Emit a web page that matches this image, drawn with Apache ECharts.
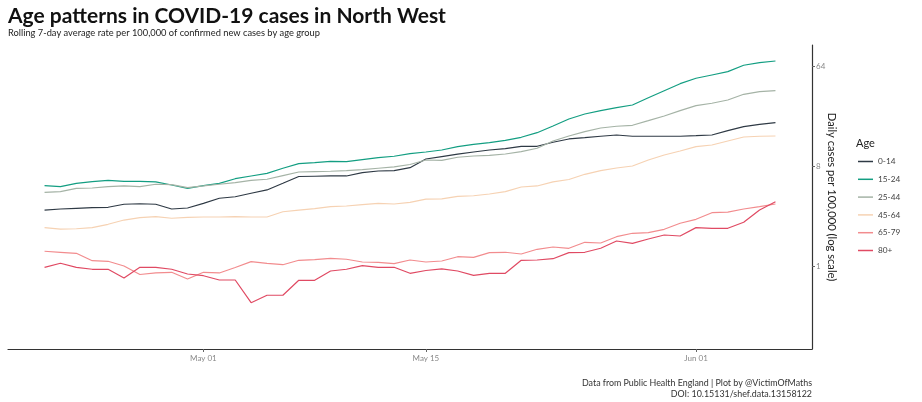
<!DOCTYPE html>
<html>
<head>
<meta charset="utf-8">
<script src="https://cdn.jsdelivr.net/npm/echarts@6/dist/echarts.min.js"></script>
<style>
html,body{margin:0;padding:0;background:#fff;}
#chart{width:922px;height:402px;}
</style>
</head>
<body>
<div id="chart"></div>
<script>
// Dates: 21 Apr to 6 Jun (daily)
var startDate = '2021-04-21';
var dayCount = 47;
var ageGroups = ['0-14', '15-24', '25-44', '45-64', '65-79', '80+'];
var seriesColors = ['#2f3a45', '#139e82', '#a5b3a6', '#f6d2b3', '#f28c8e', '#e04a63'];

var age0to14 = [3.20,3.27,3.32,3.36,3.39,3.61,3.65,3.61,3.27,3.34,3.68,4.09,4.22,4.54,4.86,5.58,6.43,6.46,6.50,6.50,6.96,7.21,7.26,7.72,9.25,9.73,10.22,10.70,11.16,11.46,12.05,12.05,13.10,14.03,14.41,14.84,15.24,14.84,14.84,14.84,14.84,15.02,15.24,16.67,18.11,19.04,19.68];
var age15to24 = [5.31,5.20,5.58,5.77,5.94,5.82,5.82,5.74,5.39,5.03,5.31,5.58,6.14,6.50,6.87,7.63,8.39,8.57,8.82,8.75,9.12,9.51,9.79,10.33,10.70,11.16,11.95,12.56,12.99,13.65,14.53,15.99,18.38,21.26,23.59,25.26,26.89,28.44,33.11,38.29,44.29,49.56,53.08,56.85,64.94,68.55,71.0];
var age25to44 = [4.63,4.69,5.03,5.06,5.20,5.28,5.20,5.47,5.42,5.10,5.28,5.47,5.65,5.94,6.07,6.54,7.06,7.11,7.17,7.26,7.41,7.63,7.84,8.25,9.06,9.00,9.59,9.85,9.99,10.27,10.77,11.56,13.45,14.93,16.32,17.63,18.27,18.65,20.52,22.63,25.26,28.04,29.47,31.56,35.53,37.48,38.29];
var age45to64 = [2.22,2.15,2.17,2.22,2.38,2.60,2.73,2.79,2.70,2.75,2.77,2.77,2.79,2.77,2.77,3.09,3.20,3.29,3.43,3.48,3.58,3.68,3.63,3.76,4.01,4.03,4.26,4.31,4.47,4.69,5.17,5.28,5.74,6.04,6.73,7.26,7.67,8.00,9.06,10.06,10.93,11.95,12.38,13.45,14.62,14.84,14.93];
var age65to79 = [1.358,1.330,1.302,1.117,1.103,1.000,0.838,0.865,0.877,0.763,0.877,0.865,0.969,1.094,1.058,1.027,1.126,1.140,1.174,1.150,1.087,1.080,1.049,1.133,1.087,1.110,1.213,1.198,1.319,1.330,1.283,1.415,1.485,1.445,1.637,1.613,1.839,1.974,1.999,2.145,2.43,2.64,3.03,3.07,3.27,3.43,3.63];
var age80plus = [0.973,1.058,0.973,0.934,0.934,0.779,0.973,0.973,0.934,0.847,0.817,0.747,0.747,0.466,0.544,0.544,0.743,0.743,0.901,0.934,1.006,0.973,0.973,0.859,0.911,0.940,0.901,0.824,0.859,0.859,1.126,1.133,1.164,1.319,1.330,1.445,1.682,1.603,1.753,1.905,1.866,2.22,2.19,2.19,2.48,3.20,3.81];

var yTickValues = [1, 8, 64];
var xTickDates = ['2021-05-01', '2021-05-15', '2021-06-01'];
var monthNames = ['Jan','Feb','Mar','Apr','May','Jun','Jul','Aug','Sep','Oct','Nov','Dec'];

function parseDay(s) {
  var p = s.split('-');
  return new Date(+p[0], +p[1] - 1, +p[2]).getTime();
}
var t0 = parseDay(startDate);
var dates = [];
for (var i = 0; i < dayCount; i++) {
  var d = new Date(t0);
  d.setDate(d.getDate() + i);
  dates.push(d.getTime());
}
var allSeries = [age0to14, age15to24, age25to44, age45to64, age65to79, age80plus];
var span = dates[dates.length - 1] - dates[0];
var xMin = dates[0] - 0.05 * span;
var xMax = dates[dates.length - 1] + 0.05 * span;
var xTicks = xTickDates.map(parseDay);

var font = 'Lato, "Open Sans", sans-serif';

var chart = echarts.init(document.getElementById('chart'), null, {renderer: 'canvas'});
chart.setOption({
  animation: false,
  backgroundColor: '#ffffff',
  textStyle: {fontFamily: font},
  title: [
    {text: 'Age patterns in COVID-19 cases in North West', left: 3, top: 1,
     textStyle: {fontFamily: font, fontWeight: 'bold', fontSize: 21, color: '#111'}},
    {text: 'Rolling 7-day average rate per 100,000 of confirmed new cases by age group', left: 3, top: 23,
     textStyle: {fontFamily: font, fontWeight: 'normal', fontSize: 9.3, color: '#222'}},
    {text: 'Age', left: 851, top: 133,
     textStyle: {fontFamily: font, fontWeight: 'normal', fontSize: 11, color: '#222'}}
  ],
  graphic: [
    {type: 'text', right: 110, top: 378,
     style: {text: 'Data from Public Health England | Plot by @VictimOfMaths\nDOI: 10.15131/shef.data.13158122',
       textAlign: 'right', align: 'right', fill: '#333', fontFamily: font, fontSize: 8.9, lineHeight: 11}}
  ],
  legend: {
    orient: 'vertical',
    left: 853,
    top: 151,
    itemWidth: 15,
    itemHeight: 1.5,
    itemGap: 6.8,
    icon: 'rect',
    textStyle: {fontFamily: font, fontSize: 8.3, color: '#444', lineHeight: 11},
    data: ageGroups
  },
  grid: {left: 8, right: 110, top: 45, bottom: 53, containLabel: false},
  xAxis: {
    type: 'value',
    min: xMin,
    max: xMax,
    splitLine: {show: false},
    axisLine: {show: true, lineStyle: {color: '#333', width: 1.2}},
    axisTick: {show: true, length: 3, lineStyle: {color: '#666'}, customValues: xTicks},
    axisLabel: {
      show: true, fontSize: 8, color: '#888', margin: 5, fontFamily: font,
      customValues: xTicks,
      formatter: function (v) {
        var d = new Date(v);
        var dd = d.getDate();
        return monthNames[d.getMonth()] + ' ' + (dd < 10 ? '0' + dd : dd);
      }
    }
  },
  yAxis: {
    type: 'log',
    logBase: 8,
    min: 0.178,
    max: 99,
    position: 'right',
    name: 'Daily cases per 100,000 (log scale)',
    nameLocation: 'middle',
    nameRotate: -90,
    nameGap: 14,
    nameMoveOverlap: false,
    nameTextStyle: {fontFamily: font, fontSize: 11.2, color: '#222'},
    splitLine: {show: false},
    axisLine: {show: true, lineStyle: {color: '#333', width: 1.2}},
    axisTick: {show: true, length: 3, lineStyle: {color: '#666'}, customValues: yTickValues},
    axisLabel: {show: true, fontSize: 8, color: '#888', margin: 4, fontFamily: font, customValues: yTickValues,
      formatter: function (v) { return String(Math.round(v)); }}
  },
  series: allSeries.map(function (vals, k) {
    return {
      name: ageGroups[k],
      type: 'line',
      showSymbol: false,
      symbol: 'none',
      color: seriesColors[k],
      lineStyle: {width: 1.2, color: seriesColors[k]},
      data: vals.map(function (v, i) { return [dates[i], v]; })
    };
  })
});
</script>
</body>
</html>
